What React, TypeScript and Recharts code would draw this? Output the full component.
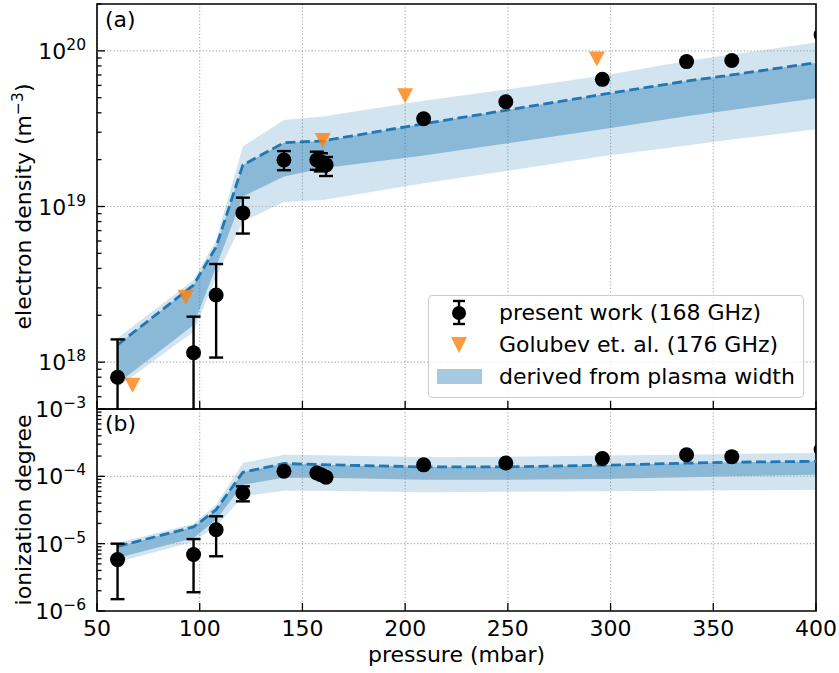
import {
  Area,
  CartesianGrid,
  ComposedChart,
  ErrorBar,
  Label,
  Line,
  ReferenceArea,
  ReferenceLine,
  Scatter,
  XAxis,
  YAxis,
} from "recharts";

const FONT = "DejaVu Sans, Liberation Sans, sans-serif";
const BLUE = "#1f77b4";
const ORANGE = "#ff7f0e";
const GRID = "#b0b0b0";

// model band nodes (pressure, mbar)
const bandPressure = [60, 97, 108, 121, 141, 160, 209, 249, 296, 337, 359, 400];
const densityCenter = [1.29e18, 3.13e18, 5.5e18, 1.85e19, 2.57e19, 2.64e19, 3.4e19, 4.15e19, 5.25e19, 6.4e19, 7.0e19, 8.4e19];
const densityInnerLow = [7.3e17, 1.73e18, 4.1e18, 1.16e19, 1.56e19, 1.76e19, 2.13e19, 2.54e19, 3.13e19, 3.8e19, 4.17e19, 4.96e19];
const densityOuterHigh = [1.43e18, 3.37e18, 6.1e18, 2.43e19, 3.6e19, 3.78e19, 4.78e19, 5.65e19, 6.92e19, 8.6e19, 9.46e19, 1.13e20];
const densityOuterLow = [6.9e17, 1.57e18, 3.54e18, 8.0e18, 1.07e19, 1.1e19, 1.41e19, 1.69e19, 2.1e19, 2.47e19, 2.69e19, 3.13e19];

const ionCenter = [9.1e-6, 1.77e-5, 3.2e-5, 1.15e-4, 1.55e-4, 1.49e-4, 1.38e-4, 1.38e-4, 1.46e-4, 1.57e-4, 1.62e-4, 1.67e-4];
const ionInnerLow = [6.1e-6, 1.21e-5, 2.28e-5, 7.5e-5, 9.5e-5, 9.5e-5, 8.9e-5, 8.9e-5, 9.1e-5, 9.7e-5, 1.0e-4, 1.06e-4];
const ionOuterHigh = [1.02e-5, 1.98e-5, 3.8e-5, 1.58e-4, 2.1e-4, 2.05e-4, 1.94e-4, 1.96e-4, 2.04e-4, 2.1e-4, 2.15e-4, 2.23e-4];
const ionOuterLow = [5.3e-6, 1.08e-5, 1.8e-5, 5.05e-5, 6.1e-5, 6.1e-5, 5.8e-5, 5.9e-5, 6.0e-5, 6.1e-5, 6.2e-5, 6.3e-5];

// present work (168 GHz); the last point sits just past the 400 mbar edge
const measuredPressure = [60, 97, 108, 121, 141, 157, 159, 161.5, 209, 249, 296, 337, 359, 402.5];
const measuredDensity = [8.0e17, 1.15e18, 2.7e18, 9.1e18, 1.99e19, 1.99e19, 1.94e19, 1.85e19, 3.66e19, 4.71e19, 6.56e19, 8.53e19, 8.67e19, 1.27e20];
const densityErrLow = [1e17, 1e17, 1.07e18, 6.7e18, 1.71e19, 1.72e19, 1.68e19, 1.57e19, null, null, null, null, null, null];
const densityErrHigh = [1.4e18, 1.96e18, 4.27e18, 1.14e19, 2.27e19, 2.25e19, 2.2e19, 2.08e19, null, null, null, null, null, null];
const measuredIonization = [5.8e-6, 6.9e-6, 1.61e-5, 5.66e-5, 1.19e-4, 1.12e-4, 1.06e-4, 9.7e-5, 1.48e-4, 1.58e-4, 1.84e-4, 2.09e-4, 1.96e-4, 2.5e-4];
const ionErrLow = [1.5e-6, 1.9e-6, 6.5e-6, 4.25e-5, null, null, null, null, null, null, null, null, null, null];
const ionErrHigh = [1.0e-5, 1.17e-5, 2.55e-5, 7.1e-5, null, null, null, null, null, null, null, null, null, null];

// Golubev et. al. (176 GHz)
const golubevPressure = [67.3, 93.2, 159.9, 200, 293.3];
const golubevDensity = [7.1e17, 2.61e18, 2.65e19, 5.14e19, 8.85e19];

const pressureTicks = [50, 100, 150, 200, 250, 300, 350, 400];
const densityDecades = [1e18, 1e19, 1e20];
const ionDecades = [1e-5, 1e-4];
const minorSteps = [1, 2, 3, 4, 5, 6, 7, 8, 9];

const DENSITY_DOMAIN: [number, number] = [5e17, 2e20];
const ION_DOMAIN: [number, number] = [1e-6, 1e-3];

function logTicks([lo, hi]: [number, number]) {
  const out: number[] = [];
  for (let e = Math.floor(Math.log10(lo)); e <= Math.ceil(Math.log10(hi)); e++) {
    for (const m of minorSteps) {
      const v = m * Math.pow(10, e);
      if (v >= lo * 0.999 && v <= hi * 1.001) out.push(v);
    }
  }
  return out;
}

const bandRows = (center: number[], innerLow: number[], outerLow: number[], outerHigh: number[]) =>
  bandPressure.map((p, i) => ({
    p,
    center: center[i],
    inner: [innerLow[i], center[i]],
    outer: [outerLow[i], outerHigh[i]],
  }));

const pointRows = (values: number[], lows: (number | null)[], highs: (number | null)[]) =>
  measuredPressure.map((p, i) => ({
    p,
    v: values[i],
    err: lows[i] == null ? undefined : [values[i] - (lows[i] as number), (highs[i] as number) - values[i]],
  }));

const densityBand = bandRows(densityCenter, densityInnerLow, densityOuterLow, densityOuterHigh);
const ionBand = bandRows(ionCenter, ionInnerLow, ionOuterLow, ionOuterHigh);
const densityPoints = pointRows(measuredDensity, densityErrLow, densityErrHigh);
const ionPoints = pointRows(measuredIonization, ionErrLow, ionErrHigh);
const golubevPoints = golubevPressure.map((p, i) => ({ p, v: golubevDensity[i] }));

function LogTick({ x, y, payload }: any) {
  const v = payload.value;
  const exp = Math.round(Math.log10(v));
  const major = Math.abs(Math.log10(v) - exp) < 1e-6;
  return (
    <g>
      <line x1={x} x2={x + (major ? 8 : 4.5)} y1={y} y2={y} stroke="#000" strokeWidth={1.3} />
      {major && (
        <text x={x - 11} y={y + 8} textAnchor="end" fontSize={22} fontFamily={FONT} fill="#000">
          10
          <tspan dy={-9} fontSize={15.5}>
            {exp < 0 ? `\u2212${-exp}` : `${exp}`}
          </tspan>
        </text>
      )}
    </g>
  );
}

function PressureTick({ x, y, payload, showLabel }: any) {
  return (
    <g>
      <line x1={x} x2={x} y1={y} y2={y - 8} stroke="#000" strokeWidth={1.3} />
      {showLabel && (
        <text x={x} y={y + 25} textAnchor="middle" fontSize={22} fontFamily={FONT} fill="#000">
          {payload.value}
        </text>
      )}
    </g>
  );
}

const Dot = ({ cx, cy }: any) => <circle cx={cx} cy={cy} r={7.5} fill="#000" />;
const Triangle = ({ cx, cy }: any) => (
  <polygon
    points={`${cx - 8},${cy - 7.5} ${cx + 8},${cy - 7.5} ${cx},${cy + 7.5}`}
    fill={ORANGE}
    fillOpacity={0.8}
  />
);

function YTitle({ viewBox, children }: any) {
  const cy = viewBox.y + viewBox.height / 2;
  return (
    <text x={31} y={cy} transform={`rotate(-90, 31, ${cy})`} textAnchor="middle" fontSize={22} fontFamily={FONT} fill="#000">
      {children}
    </text>
  );
}

function Panel({
  band,
  points,
  domain,
  decades,
  extraPoints,
  bottom,
}: {
  band: any[];
  points: any[];
  domain: [number, number];
  decades: number[];
  extraPoints?: any[];
  bottom: boolean;
}) {
  return (
    <ComposedChart
      width={839}
      height={bottom ? 293 : 410}
      data={band}
      margin={{ top: bottom ? 29 : 4, right: 23, bottom: 0, left: 0 }}
    >
      <CartesianGrid horizontal={false} stroke={GRID} strokeDasharray="1.3 2" strokeWidth={1.1} />
      {decades.map((d) => (
        <ReferenceLine key={d} y={d} stroke={GRID} strokeDasharray="1.3 2" strokeWidth={1.1} />
      ))}
      <XAxis
        type="number"
        dataKey="p"
        domain={[50, 400]}
        ticks={pressureTicks}
        interval={0}
        allowDataOverflow
        height={bottom ? 62 : 1}
        axisLine={false}
        tickLine={false}
        tickSize={0}
        tickMargin={0}
        tick={(props: any) => <PressureTick {...props} showLabel={bottom} />}
      >
        {bottom && (
          <Label
            content={({ viewBox }: any) => (
              <text
                x={viewBox.x + viewBox.width / 2}
                y={viewBox.y + 51}
                textAnchor="middle"
                fontSize={22}
                fontFamily={FONT}
                fill="#000"
              >
                pressure (mbar)
              </text>
            )}
          />
        )}
      </XAxis>
      <YAxis
        type="number"
        scale="log"
        domain={domain}
        ticks={logTicks(domain)}
        interval={0}
        allowDataOverflow
        width={97}
        axisLine={false}
        tickLine={false}
        tickSize={0}
        tickMargin={0}
        tick={<LogTick />}
      >
        <Label
          content={({ viewBox }: any) =>
            bottom ? (
              <YTitle viewBox={viewBox}>ionization degree</YTitle>
            ) : (
              <YTitle viewBox={viewBox}>
                electron density (m
                <tspan dy={-8} fontSize={15.5}>
                  {"\u22123"}
                </tspan>
                <tspan dy={8}>)</tspan>
              </YTitle>
            )
          }
        />
      </YAxis>
      <Area type="linear" dataKey="outer" stroke="none" fill={BLUE} fillOpacity={0.2} isAnimationActive={false} />
      <Area type="linear" dataKey="inner" stroke="none" fill={BLUE} fillOpacity={0.4} isAnimationActive={false} />
      <Line
        type="linear"
        dataKey="center"
        stroke={BLUE}
        strokeWidth={2.8}
        strokeDasharray="10 4.5"
        dot={false}
        activeDot={false}
        isAnimationActive={false}
      />
      {extraPoints && (
        <Scatter data={extraPoints} dataKey="v" shape={<Triangle />} isAnimationActive={false} />
      )}
      <Scatter data={points} dataKey="v" shape={<Dot />} isAnimationActive={false}>
        <ErrorBar dataKey="err" direction="y" width={7} strokeWidth={2.4} stroke="#000" />
      </Scatter>
      <ReferenceArea
        x1={50}
        x2={400}
        y1={domain[0]}
        y2={domain[1]}
        fill="none"
        fillOpacity={0}
        stroke="#000"
        strokeWidth={1.6}
      />
    </ComposedChart>
  );
}

function LegendBox() {
  const row = (top: number): React.CSSProperties => ({
    position: "absolute",
    left: 0,
    top,
    width: 374,
    height: 32,
    lineHeight: "32px",
  });
  return (
    <div
      style={{
        position: "absolute",
        left: 428,
        top: 295,
        width: 376,
        height: 103,
        boxSizing: "border-box",
        border: "1px solid #cccccc",
        borderRadius: 4,
        background: "rgba(255,255,255,0.8)",
        fontFamily: FONT,
        fontSize: 22,
        color: "#000",
      }}
    >
      <div style={row(1)}>
        <svg width={50} height={32} style={{ position: "absolute", left: 5, top: 0 }}>
          <line x1={25} x2={25} y1={4} y2={27} stroke="#000" strokeWidth={2.4} />
          <line x1={19} x2={31} y1={4} y2={4} stroke="#000" strokeWidth={2.4} />
          <line x1={19} x2={31} y1={27} y2={27} stroke="#000" strokeWidth={2.4} />
          <circle cx={25} cy={16} r={7} fill="#000" />
        </svg>
        <span style={{ position: "absolute", left: 70 }}>present work (168 GHz)</span>
      </div>
      <div style={row(33)}>
        <svg width={50} height={32} style={{ position: "absolute", left: 5, top: 0 }}>
          <polygon points="17,8 33,8 25,24" fill={ORANGE} fillOpacity={0.8} />
        </svg>
        <span style={{ position: "absolute", left: 70 }}>Golubev et. al. (176 GHz)</span>
      </div>
      <div style={row(65)}>
        <svg width={50} height={32} style={{ position: "absolute", left: 5, top: 0 }}>
          <rect x={3} y={8} width={45} height={15} fill={BLUE} fillOpacity={0.4} />
        </svg>
        <span style={{ position: "absolute", left: 70 }}>derived from plasma width</span>
      </div>
    </div>
  );
}

export default function App() {
  const tag: React.CSSProperties = {
    position: "absolute",
    left: 105,
    fontFamily: FONT,
    fontSize: 22,
    lineHeight: "22px",
    color: "#000",
  };
  return (
    <div style={{ position: "absolute", left: 0, top: 0, width: 839, height: 673, background: "#fff", overflow: "hidden" }}>
      <div style={{ position: "absolute", left: 0, top: 0 }}>
        <Panel band={densityBand} points={densityPoints} extraPoints={golubevPoints} domain={DENSITY_DOMAIN} decades={densityDecades} bottom={false} />
      </div>
      <div style={{ position: "absolute", left: 0, top: 380 }}>
        <Panel band={ionBand} points={ionPoints} domain={ION_DOMAIN} decades={ionDecades} bottom />
      </div>
      {/* scatter marks are not clipped, so mask the strip right of the plot frame */}
      <div style={{ position: "absolute", left: 817, top: 0, width: 22, height: 620, background: "#fff" }} />
      <div style={{ ...tag, top: 9 }}>(a)</div>
      <div style={{ ...tag, top: 413 }}>(b)</div>
      <LegendBox />
    </div>
  );
}
